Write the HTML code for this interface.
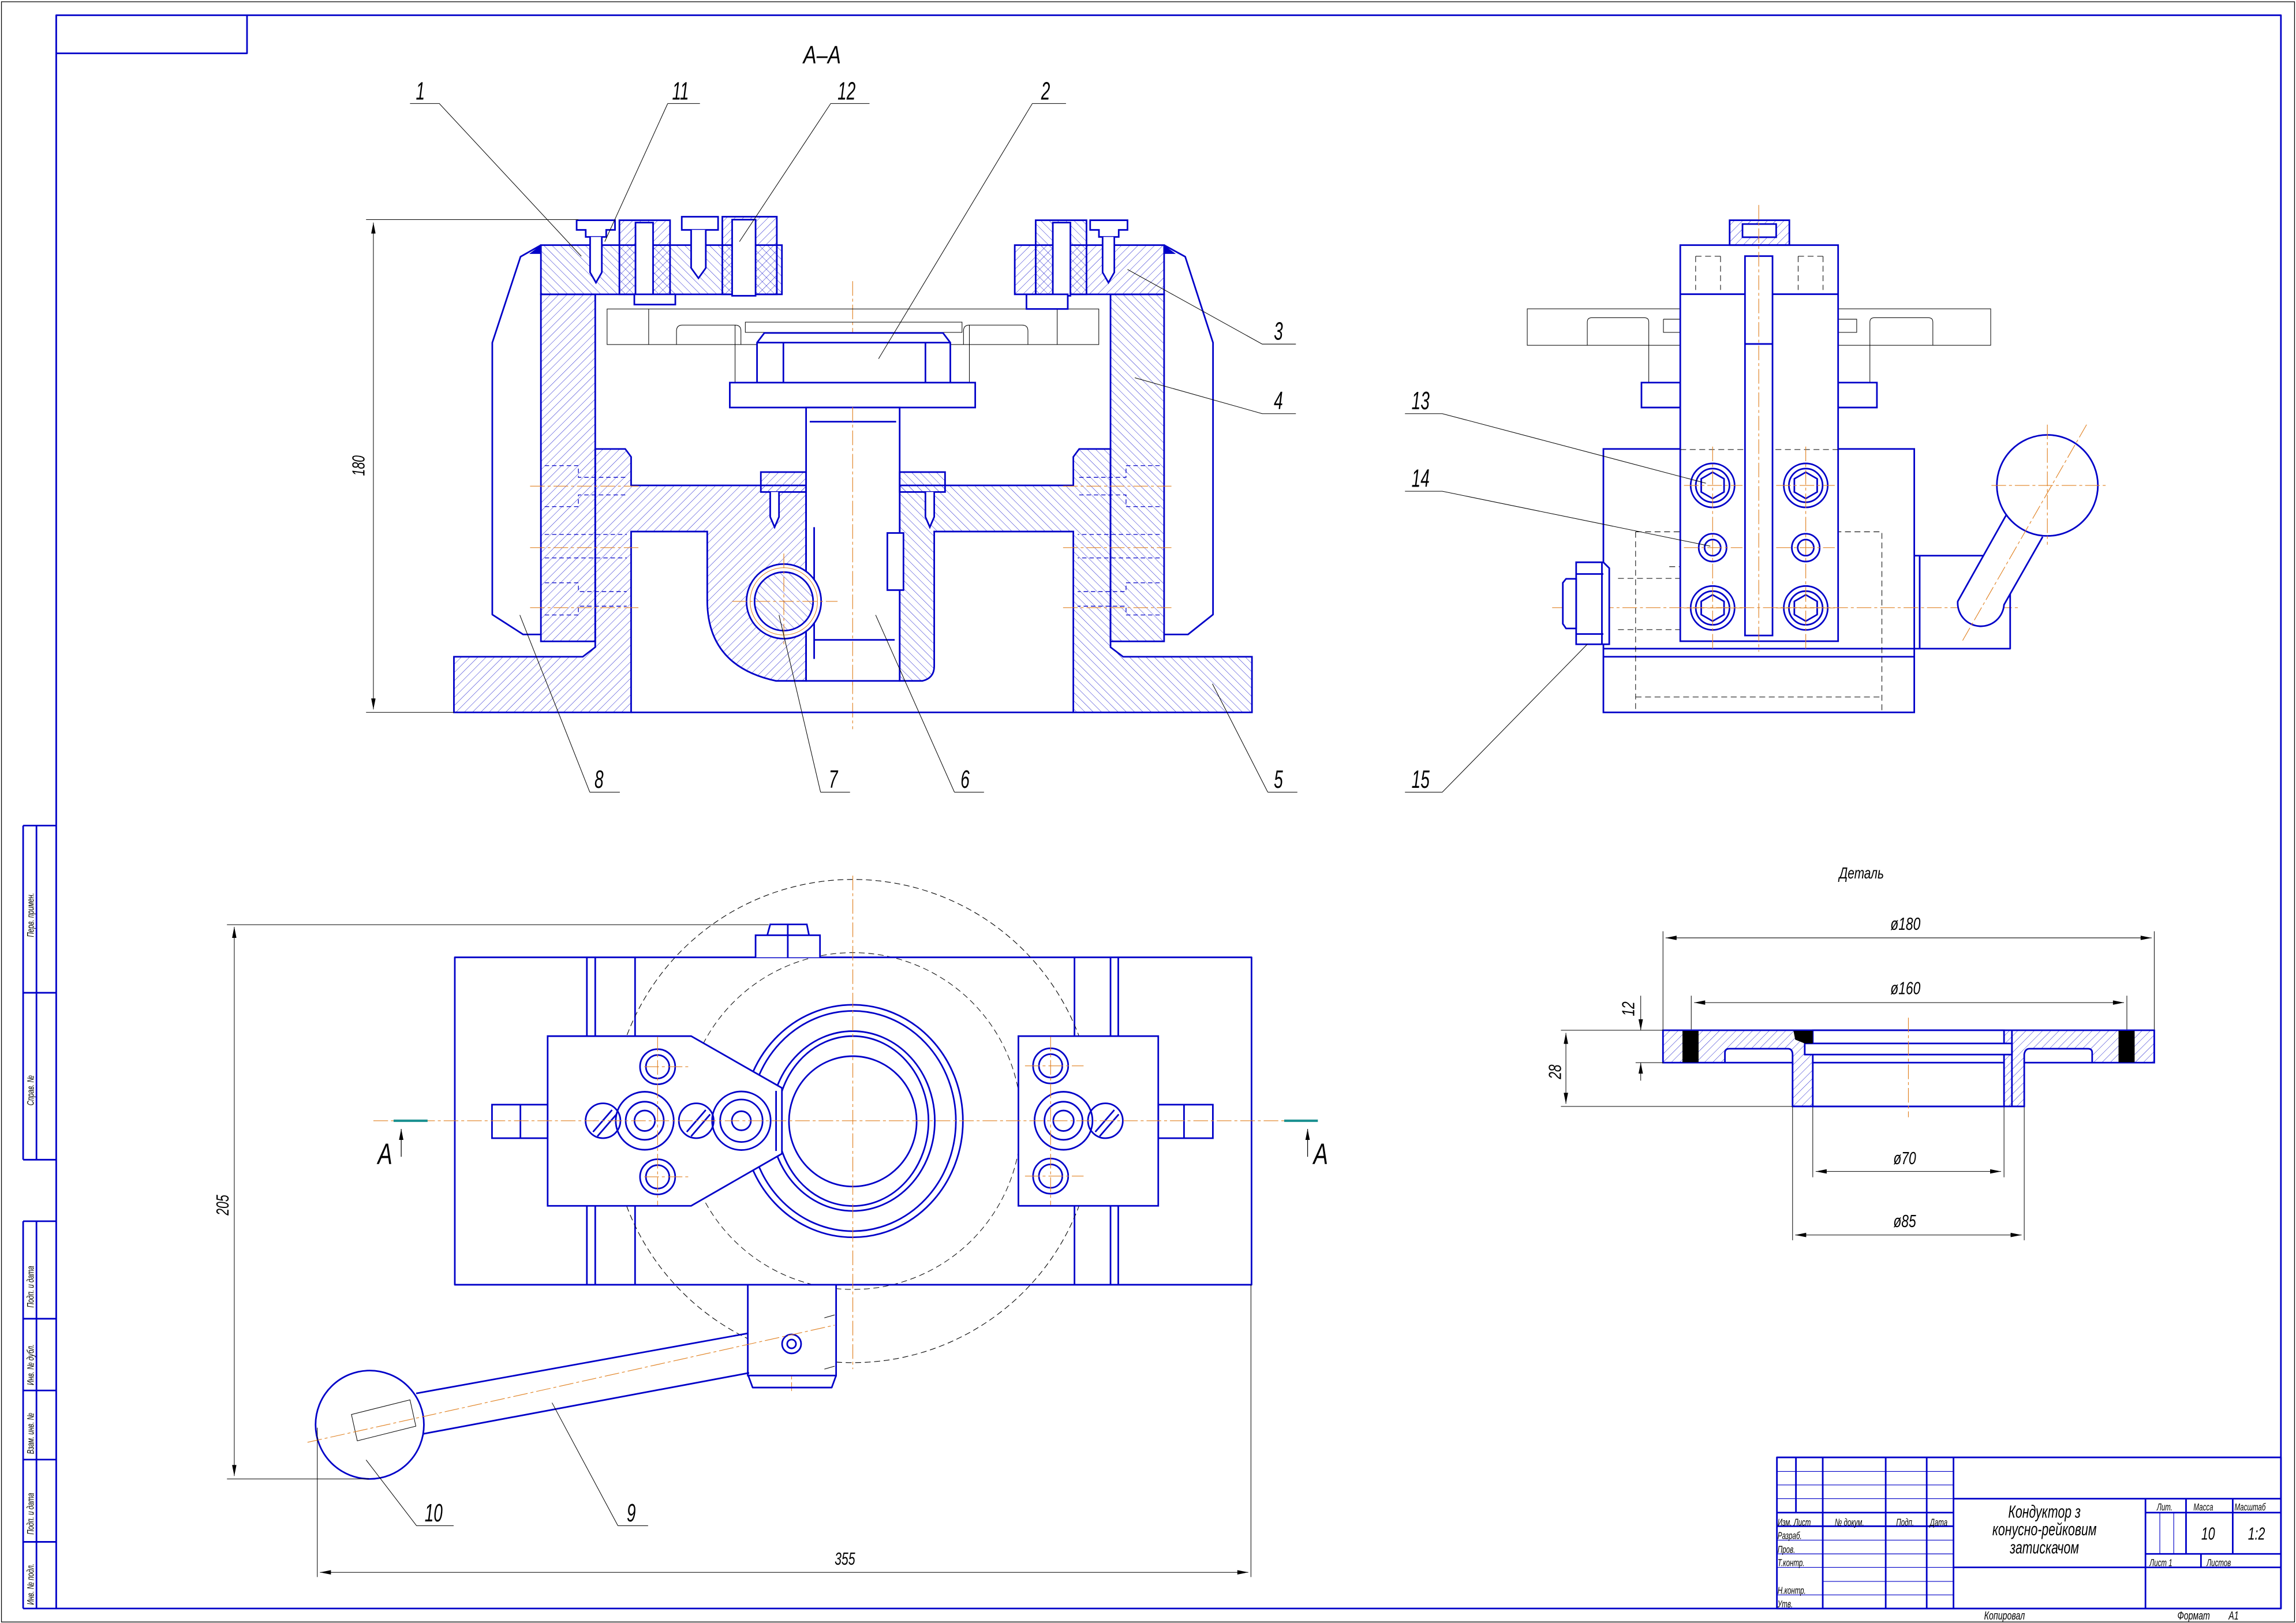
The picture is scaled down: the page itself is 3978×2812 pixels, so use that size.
<!DOCTYPE html>
<html><head><meta charset="utf-8">
<style>
html,body{margin:0;padding:0;background:#fff;}
svg{display:block;}
.m{stroke:#0000c8;stroke-width:1.1;fill:none;stroke-linejoin:round}
.mf{stroke:#0000c8;stroke-width:1.1;fill:url(#hp)}
.mf2{stroke:#0000c8;stroke-width:1.1;fill:url(#hp2)}
.mw{stroke:#0000c8;stroke-width:1.1;fill:#fff}
.t{stroke:#000;stroke-width:0.4;fill:none}
.tb{stroke:#000;stroke-width:0.5;fill:none}
.c{stroke:#e08020;stroke-width:0.45;fill:none;stroke-dasharray:10 2 2 2}
.h{stroke:#0000c8;stroke-width:0.5;fill:none;stroke-dasharray:3 2}
.hk{stroke:#000;stroke-width:0.4;fill:none;stroke-dasharray:4 2.5}
text{font-family:"Liberation Sans","DejaVu Sans",sans-serif;font-style:italic;fill:#000}
</style></head>
<body>
<svg width="3978" height="2812" viewBox="0 0 1568 1108.4" preserveAspectRatio="none" xmlns="http://www.w3.org/2000/svg">
<defs>
<pattern id="hp" patternUnits="userSpaceOnUse" width="4" height="4" patternTransform="rotate(45)"><line x1="0" y1="0" x2="0" y2="4" stroke="#0000c8" stroke-width="0.35"/></pattern>
<pattern id="hp2" patternUnits="userSpaceOnUse" width="4" height="4" patternTransform="rotate(-45)"><line x1="0" y1="0" x2="0" y2="4" stroke="#0000c8" stroke-width="0.35"/></pattern>
<marker id="ar" viewBox="0 0 10 4" refX="10" refY="2" markerWidth="8" markerHeight="3" orient="auto-start-reverse" markerUnits="userSpaceOnUse"><path d="M0,0 L10,2 L0,4z" fill="#000"/></marker>
</defs>
<rect x="0" y="0" width="1568" height="1108.4" fill="#fff"/>
<!-- frames -->
<rect x="1" y="1.2" width="1566" height="1106.5" class="tb"/>
<path d="M38.4,1098.5 V10.4 H1557.7 V1098.5 Z" class="m"/>
<path d="M38.4,36.4 H168.7 V10.4" class="m"/>
<!-- stamp strip -->
<g class="m">
<path d="M15.8,563.8 H38.4 M15.8,678 H38.4 M15.8,792 H38.4 M15.8,563.8 V792 M24.9,563.8 V792"/>
<path d="M15.8,834 H38.4 M15.8,900.6 H38.4 M15.8,949.6 H38.4 M15.8,996.8 H38.4 M15.8,1053 H38.4 M15.8,834 V1098.5 M24.9,834 V1098.5 M15.8,1098.5 H38.4"/>
</g>
<g font-size="6.5">
<text transform="translate(23,640) rotate(-90) scale(0.7,1)">Перв. примен.</text>
<text transform="translate(23,755) rotate(-90) scale(0.7,1)">Справ. №</text>
<text transform="translate(23,893) rotate(-90) scale(0.7,1)">Подп. и дата</text>
<text transform="translate(23,946) rotate(-90) scale(0.7,1)">Инв. № дубл.</text>
<text transform="translate(23,993) rotate(-90) scale(0.7,1)">Взам. инв. №</text>
<text transform="translate(23,1048) rotate(-90) scale(0.7,1)">Подп. и дата</text>
<text transform="translate(23,1096) rotate(-90) scale(0.7,1)">Инв. № подл.</text>
</g>

<!-- ============ SECTION A-A ============ -->
<text transform="translate(548.6,43.4) scale(0.8,1)" font-size="17">А–А</text>
<!-- centerline -->
<line x1="582.3" y1="192" x2="582.3" y2="498" class="c"/>
<!-- thin plate -->
<rect x="414.6" y="211" width="335.8" height="24.3" class="t"/>
<path d="M462,235.3 V226 Q462,222 466,222 H502 Q506,222 506,226 V235.3 M658,235.3 V226 Q658,222 662,222 H698 Q702,222 702,226 V235.3 M502,222 V262 M662,222 V262 M443,211 V235.3 M722,211 V235.3 M509,220 H657 V227 H509Z" class="t"/>
<!-- outer brackets 8 -->
<path d="M369.4,167.4 L355.5,175.3 L336.2,234 L336.2,419.7 L357.3,433.3 L369.4,433.3" class="m"/>
<path d="M795,167.4 L809.4,175.3 L828.4,234 L828.4,419.7 L811.3,433.3 L795,433.3" class="m"/>
<path d="M369.4,167.4 l-8,6 l8,0z M795,167.4 l8,6 l-8,0z" fill="#0000c8"/>
<!-- columns -->
<rect x="369.4" y="201" width="37.1" height="237" class="mf"/>
<rect x="758.4" y="201" width="36.6" height="237" class="mf2"/>
<!-- top plates -->
<rect x="369.4" y="167.4" width="164.6" height="33.6" class="mf2"/>
<rect x="693" y="167.4" width="102" height="33.6" class="mf"/>
<!-- top screws left -->
<path d="M393.8,150.4 H420 V157 H414 V161.8 H400 V157 H393.8Z" class="mw"/>
<path d="M403,161.8 V186 L407,193 L411,186 V161.8" class="mw"/>
<rect x="423" y="150.4" width="34.6" height="50.6" class="mf"/>
<rect x="434" y="152" width="12" height="50" class="mw"/>
<path d="M465.6,148 H490.4 V157 H465.6Z" class="mw"/>
<path d="M472,157 V183 L477,190 L482,183 V157" class="mw"/>
<rect x="493.3" y="148" width="37.2" height="53" class="mf"/>
<rect x="500" y="150" width="16" height="52" class="mw"/>
<rect x="433.2" y="201" width="28" height="7" class="mw"/>
<!-- top screws right -->
<rect x="707.3" y="150.4" width="34.7" height="50.6" class="mf2"/>
<rect x="719" y="152" width="12" height="50" class="mw"/>
<path d="M744.5,150.4 H770 V157 H764 V161.8 H750.5 V157 H744.5Z" class="mw"/>
<path d="M753,161.8 V186 L757,193 L761,186 V161.8" class="mw"/>
<rect x="701" y="201" width="28.2" height="10" class="mw"/>
<!-- disk 2 -->
<path d="M517,261.3 V234 L522,227.4 H644 L649,234 V261.3Z" class="mw"/>
<line x1="517" y1="234" x2="649" y2="234" class="m"/>
<line x1="535" y1="234" x2="535" y2="261" class="m"/>
<line x1="632" y1="234" x2="632" y2="261" class="m"/>
<rect x="498.4" y="261.3" width="167.6" height="17" class="mw"/>
<!-- bodies -->
<path d="M310,448.5 H398 L406.5,442 V306.6 H427 L431,312 V331.5 H550.5 V465 H530 Q483,455 483,410 V363 H431 V486.5 H310Z" class="mf"/>
<path d="M855,448.5 H767 L758.4,442 V306.6 H737 L733,312 V331.5 H614.4 V465 H630 Q638,463 638,455 V363 H733 V486.5 H855Z" class="mf2"/>
<line x1="431" y1="486.5" x2="733" y2="486.5" class="m"/>
<!-- stem -->
<rect x="550.5" y="278.3" width="63.9" height="186.7" class="mw"/>
<line x1="553" y1="288" x2="612" y2="288" class="m"/>
<path d="M556,450 V360 M556,437 H611" class="m"/>
<line x1="582.3" y1="278" x2="582.3" y2="470" class="c"/>
<rect x="606" y="364" width="11" height="39" class="mw"/>
<!-- small screw blocks -->
<rect x="519.6" y="322.4" width="30.9" height="13.6" class="mf"/>
<path d="M526,336 V353 L529,360 L532,353 V336" class="mw"/>
<rect x="614.4" y="322.4" width="31" height="13.6" class="mf2"/>
<path d="M632,336 V353 L635,360 L638,353 V336" class="mw"/>
<!-- circle 7 -->
<circle cx="535.3" cy="410.7" r="25.5" class="mw"/>
<circle cx="535.3" cy="410.7" r="20" class="mf2"/>
<circle cx="535.3" cy="410.7" r="23" style="stroke:#e08020;stroke-width:0.4;fill:none"/>
<path d="M500,410.7 H572 M535.3,378 V440" class="c"/>
<!-- hidden bolts in columns -->
<g class="h">
<path d="M372,318 H395 V326 H428 M372,346 H395 V338 H428 M372,365 H428 M372,381 H428 M372,398 H395 V404 H428 M372,420 H395 V414 H428"/>
<path d="M792,318 H769 V326 H736 M792,346 H769 V338 H736 M792,365 H736 M792,381 H736 M792,398 H769 V404 H736 M792,420 H769 V414 H736"/>
</g>
<path d="M362,332 H438 M362,374 H438 M362,415 H438 M726,332 H802 M726,374 H802 M726,415 H802" class="c"/>
<!-- dim 180 -->
<path d="M250,150 H395 M250,486.5 H310" class="t"/>
<line x1="255" y1="152" x2="255" y2="484.5" class="t" marker-start="url(#ar)" marker-end="url(#ar)"/>
<text transform="translate(249,325) rotate(-90) scale(0.7,1)" font-size="12">180</text>

<!-- ============ SIDE VIEW ============ -->
<rect x="1043" y="210.9" width="316.5" height="24.9" class="t"/>
<path d="M1084,235.8 V220 Q1084,217 1087,217 H1123 Q1126,217 1126,220 V261 M1277,261 V220 Q1277,217 1280,217 H1317 Q1320,217 1320,220 V235.8 M1136,218 H1147.5 M1255.3,218 H1268 V227 H1255.3 M1136,218 V227 H1147.5" class="t"/>
<path d="M1121,261.3 H1147.5 V278.3 H1121Z M1255.3,261.3 H1281.8 V278.3 H1255.3Z" class="mw"/>
<rect x="1095" y="306.6" width="212.3" height="179.9" class="mw"/>
<line x1="1095" y1="443" x2="1307.3" y2="443" class="m"/>
<line x1="1095" y1="448.5" x2="1307.3" y2="448.5" class="m"/>
<path d="M1117,363.2 H1285.2 V486.5 M1117,363.2 V486.5 M1117,476 H1285.2" class="hk"/>
<path d="M1105,395 H1248 M1105,430 H1248 M1140,387 H1240" class="hk"/>
<rect x="1147.5" y="167.4" width="107.8" height="270.5" class="mw"/>
<line x1="1147.5" y1="200.9" x2="1255.3" y2="200.9" class="m"/>
<path d="M1158,175 V198 M1175,175 V198 M1158,175 H1175 M1228,175 V198 M1245,175 V198 M1228,175 H1245 M1147.5,307 H1255.3" class="hk"/>
<rect x="1191.7" y="174.9" width="18.8" height="259.1" class="mw"/>
<line x1="1191.7" y1="234.9" x2="1210.5" y2="234.9" class="m"/>
<rect x="1181.2" y="150.4" width="40.8" height="17" class="mf"/>
<rect x="1190" y="153" width="23" height="9" class="mw"/>
<line x1="1201.1" y1="140" x2="1201.1" y2="445" class="c"/>
<g class="m">
<circle cx="1169.6" cy="331.5" r="15"/><circle cx="1169.6" cy="331.5" r="11.5"/>
<circle cx="1233.2" cy="331.5" r="15"/><circle cx="1233.2" cy="331.5" r="11.5"/>
<circle cx="1169.6" cy="415.2" r="15"/><circle cx="1169.6" cy="415.2" r="11.5"/>
<circle cx="1233.2" cy="415.2" r="15"/><circle cx="1233.2" cy="415.2" r="11.5"/>
<circle cx="1169.6" cy="374" r="9.5"/><circle cx="1169.6" cy="374" r="5.5"/>
<circle cx="1233.2" cy="374" r="9.5"/><circle cx="1233.2" cy="374" r="5.5"/>
<polygon points="1169.6,322.5 1177.4,327 1177.4,336 1169.6,340.5 1161.8,336 1161.8,327"/>
<polygon points="1233.2,322.5 1241,327 1241,336 1233.2,340.5 1225.4,336 1225.4,327"/>
<polygon points="1169.6,406.2 1177.4,410.7 1177.4,419.7 1169.6,424.2 1161.8,419.7 1161.8,410.7"/>
<polygon points="1233.2,406.2 1241,410.7 1241,419.7 1233.2,424.2 1225.4,419.7 1225.4,410.7"/>
</g>
<path d="M1150,331.5 H1190 M1213,331.5 H1253 M1150,374 H1190 M1213,374 H1253 M1150,415.2 H1190 M1213,415.2 H1253 M1169.6,305 V445 M1233.2,305 V445 M1060,415 H1380" class="c"/>
<!-- hub and handle -->
<path d="M1307.3,379.5 H1372.8 V443 H1307.3" class="m"/>
<line x1="1311" y1="379.5" x2="1311" y2="443" class="m"/>
<path d="M1370,351.9 L1337,410.7 A15,15 0 0 0 1368.6,413 L1395,366.6" class="mw"/>
<circle cx="1398.2" cy="331.5" r="34.5" class="mw"/>
<path d="M1360,331.5 H1440 M1398.2,290 V372 M1425,290 L1340,438" class="c"/>
<!-- bolt 15 -->
<path d="M1076.4,384 H1095 L1099,388 V440 H1095 L1076.4,440Z" class="mw"/>
<path d="M1076.4,392 H1095 M1076.4,433 H1095 M1094,384 V440" class="m"/>
<path d="M1076.4,395.3 H1069.5 L1067.3,398 V426 L1069.5,429.2 H1076.4 Z" class="mw"/>

<!-- ============ PLAN VIEW ============ -->
<circle cx="582.4" cy="765.6" r="165" class="hk"/>
<circle cx="582.4" cy="765.6" r="115" class="hk"/>
<rect x="310.6" y="653.8" width="544.1" height="223.6" class="m"/>
<path d="M400.8,653.8 V877.4 M406.5,653.8 V877.4 M433.7,653.8 V877.4 M733.8,653.8 V877.4 M758.4,653.8 V877.4 M763.7,653.8 V877.4" class="m"/>
<circle cx="582.4" cy="765.6" r="165" class="hk" style="stroke-opacity:0.6"/>
<path d="M516,653.8 V638.7 H560 V653.8 M524,638.7 L526,631.3 H551 L552.5,638.7 M538,631.3 V653.8" class="mw"/>
<!-- side tabs -->
<rect x="336" y="754.4" width="38" height="22.9" class="mw"/><line x1="355.4" y1="754.4" x2="355.4" y2="777.3" class="m"/>
<rect x="791" y="754.4" width="37.3" height="22.9" class="mw"/><line x1="808.6" y1="754.4" x2="808.6" y2="777.3" class="m"/>
<!-- ring -->
<ellipse cx="582.4" cy="765.6" rx="75.2" ry="79.4" class="m"/>
<ellipse cx="582.4" cy="765.6" rx="70.4" ry="75.2" class="m"/>
<ellipse cx="582.4" cy="765.6" rx="56" ry="61.4" class="m"/>
<ellipse cx="582.4" cy="765.6" rx="51.7" ry="58" class="m"/>
<ellipse cx="582.4" cy="765.8" rx="43.6" ry="44.5" class="m"/>
<!-- blocks -->
<polygon points="374,707.6 472,707.6 534,743 534,787.9 472,823.5 374,823.5" class="mw"/>
<rect x="695.5" y="707.6" width="95.5" height="115.9" class="mw"/>
<line x1="530" y1="745" x2="530" y2="786" class="m"/>
<g class="m">
<circle cx="449.1" cy="728.5" r="12"/><circle cx="449.1" cy="728.5" r="8"/>
<circle cx="449.1" cy="803.7" r="12"/><circle cx="449.1" cy="803.7" r="8"/>
<circle cx="440.3" cy="765.4" r="19.8"/><circle cx="440.3" cy="765.4" r="13"/><circle cx="440.3" cy="765.4" r="7"/>
<circle cx="506.3" cy="765.4" r="20"/><circle cx="506.3" cy="765.4" r="14.5"/><circle cx="506.3" cy="765.4" r="6.5"/>
<circle cx="411.8" cy="765.4" r="11.9"/><circle cx="475.5" cy="765.4" r="11.9"/>
<circle cx="717.5" cy="727.9" r="12"/><circle cx="717.5" cy="727.9" r="8"/>
<circle cx="717.5" cy="803.2" r="12"/><circle cx="717.5" cy="803.2" r="8"/>
<circle cx="726.3" cy="765.4" r="19.8"/><circle cx="726.3" cy="765.4" r="13"/><circle cx="726.3" cy="765.4" r="7"/>
<circle cx="754.9" cy="765.4" r="11.9"/>
<path d="M405,773 L418,758 M408,776 L421,761 M469,773 L482,758 M472,776 L485,761 M748,773 L761,758 M751,776 L764,761"/>
</g>
<path d="M255,765.4 H880 M582.4,598 V935 M449.1,708 V823 M717.5,708 V823 M440,728.5 H470 M440,803.7 H470 M700,727.9 H740 M700,803.2 H740 M540.6,880 V950" class="c"/>
<!-- section marks -->
<path d="M268.8,765.4 H292 M877,765.4 H900" stroke="#1a9090" stroke-width="1.6"/>
<line x1="274" y1="790" x2="274" y2="771" class="tb" marker-end="url(#ar)"/>
<line x1="893" y1="790" x2="893" y2="771" class="tb" marker-end="url(#ar)"/>
<text transform="translate(258,795) scale(0.75,1)" font-size="20">А</text>
<text transform="translate(897,795) scale(0.75,1)" font-size="20">А</text>
<!-- bottom block & handle -->
<rect x="510.7" y="877.4" width="60.3" height="62" class="mw"/>
<path d="M511,939.4 L514,947.6 H568 L571,939.4" class="m"/>
<path d="M284.2,951.6 L510.7,910.6 M288.6,979.3 L511.6,937.6" class="m"/>
<path d="M563,900 L570,898 M563,935 L570,933" class="t"/>
<circle cx="540.6" cy="917.8" r="6.5" class="m"/><circle cx="540.6" cy="917.8" r="3" class="m"/>
<circle cx="252.5" cy="973" r="37" class="mw"/>
<path d="M240,966 L280,956 L284,974 L244,984Z" class="t"/>
<path d="M210,985 L570,905" class="c"/>
<!-- dims 205 / 355 -->
<path d="M155,631.5 H525 M155,1010 H252" class="t"/>
<line x1="160" y1="633" x2="160" y2="1008" class="t" marker-start="url(#ar)" marker-end="url(#ar)"/>
<text transform="translate(156,830) rotate(-90) scale(0.7,1)" font-size="12">205</text>
<path d="M216.7,975 V1077 M854.3,877.4 V1077" class="t"/>
<line x1="218.5" y1="1073.8" x2="852.5" y2="1073.8" class="t" marker-start="url(#ar)" marker-end="url(#ar)"/>
<text transform="translate(570,1068.5) scale(0.7,1)" font-size="12">355</text>

<!-- ============ DETAIL ============ -->
<text transform="translate(1256,600) scale(0.75,1)" font-size="11">Деталь</text>
<path d="M1135.7,703.6 H1471.2 V725.7 H1382.4 V755.6 H1224.2 V725.7 H1135.7Z" class="mf"/>
<path d="M1178,725.7 V719 Q1178,716.2 1181,716.2 H1221 Q1224,716.2 1224.2,720 V725.7Z M1382.4,725.7 V720 Q1383,716.2 1386,716.2 H1426 Q1428.8,716.2 1428.8,719 V725.7Z" fill="#fff" stroke="#0000c8" stroke-width="1.1"/>
<rect x="1238" y="703.6" width="130.6" height="52" class="mw"/>
<rect x="1232.5" y="712.6" width="141.5" height="7.6" class="mw"/>
<line x1="1238" y1="725.7" x2="1368.6" y2="725.7" class="m"/>
<line x1="1374" y1="703.6" x2="1374" y2="755.6" class="m"/>
<rect x="1149" y="704" width="11" height="21.5" fill="#000"/>
<rect x="1446.8" y="704" width="11" height="21.5" fill="#000"/>
<path d="M1224.8,704 H1238 V712.6 H1232.5 L1226,710Z" fill="#000"/>
<line x1="1303.3" y1="695" x2="1303.3" y2="763" class="c"/>
<path d="M1135.7,703 V636 M1471.2,703 V636 M1155,703 V680 M1452.5,703 V680 M1238,756 V804 M1368.6,756 V804 M1224.2,756 V847 M1382.4,756 V847" class="t"/>
<line x1="1137.5" y1="640.5" x2="1469.4" y2="640.5" class="t" marker-start="url(#ar)" marker-end="url(#ar)"/>
<line x1="1157" y1="684.7" x2="1450.5" y2="684.7" class="t" marker-start="url(#ar)" marker-end="url(#ar)"/>
<line x1="1240" y1="800" x2="1366.6" y2="800" class="t" marker-start="url(#ar)" marker-end="url(#ar)"/>
<line x1="1226" y1="843.4" x2="1380.6" y2="843.4" class="t" marker-start="url(#ar)" marker-end="url(#ar)"/>
<text transform="translate(1291,635) scale(0.75,1)" font-size="12">ø180</text>
<text transform="translate(1291,679) scale(0.75,1)" font-size="12">ø160</text>
<text transform="translate(1293,795) scale(0.75,1)" font-size="12">ø70</text>
<text transform="translate(1293,838) scale(0.75,1)" font-size="12">ø85</text>
<path d="M1066,703.6 H1136 M1066,755.6 H1224 M1117,725.7 H1136" class="t"/>
<line x1="1069.4" y1="705.4" x2="1069.4" y2="753.8" class="t" marker-start="url(#ar)" marker-end="url(#ar)"/>
<line x1="1120.5" y1="680" x2="1120.5" y2="703.6" class="t" marker-end="url(#ar)"/>
<line x1="1120.5" y1="738" x2="1120.5" y2="725.7" class="t" marker-end="url(#ar)"/>
<text transform="translate(1066,737) rotate(-90) scale(0.75,1)" font-size="12">28</text>
<text transform="translate(1116,694) rotate(-90) scale(0.75,1)" font-size="12">12</text>

<!-- ============ LEADERS & LABELS ============ -->
<g class="t">
<path d="M280,70.7 H300 L397,175"/>
<path d="M456,70.7 H478 M456,70.7 L413,165"/>
<path d="M567.3,70.7 H593.8 M567.3,70.7 L505,165"/>
<path d="M705,70.7 H728 M705,70.7 L600,245"/>
<path d="M885,235 H862 L770,184"/>
<path d="M885,282.5 H862 L775,258"/>
<path d="M959.5,282.5 H985 L1165,330"/>
<path d="M959.5,335.5 H985 L1168,373"/>
<path d="M402.8,541 H423.3 M402.8,541 L355,420"/>
<path d="M560.4,541 H580.5 M560.4,541 L532,420"/>
<path d="M651.8,541 H672 M651.8,541 L598,420"/>
<path d="M865.8,541 H886 M865.8,541 L828,467"/>
<path d="M959.5,541 H985 L1084,440"/>
<path d="M284.5,1042 H309.8 M284.5,1042 L250,997"/>
<path d="M422,1042 H442.6 M422,1042 L377,958"/>
</g>
<g font-size="17">
<text transform="translate(284,68) scale(0.65,1)">1</text>
<text transform="translate(459,68) scale(0.65,1)">11</text>
<text transform="translate(572,68) scale(0.65,1)">12</text>
<text transform="translate(711,68) scale(0.65,1)">2</text>
<text transform="translate(870,232) scale(0.65,1)">3</text>
<text transform="translate(870,279.5) scale(0.65,1)">4</text>
<text transform="translate(964,279.5) scale(0.65,1)">13</text>
<text transform="translate(964,332.5) scale(0.65,1)">14</text>
<text transform="translate(406,538) scale(0.65,1)">8</text>
<text transform="translate(566,538) scale(0.65,1)">7</text>
<text transform="translate(656,538) scale(0.65,1)">6</text>
<text transform="translate(870,538) scale(0.65,1)">5</text>
<text transform="translate(964,538) scale(0.65,1)">15</text>
<text transform="translate(290,1039) scale(0.65,1)">10</text>
<text transform="translate(428,1039) scale(0.65,1)">9</text>
</g>

<!-- ============ TITLE BLOCK ============ -->
<g class="m">
<rect x="1213.5" y="995.3" width="344.2" height="103.2"/>
<path d="M1226.5,995.3 V1033 M1244.8,995.3 V1098.5 M1287.8,995.3 V1098.5 M1315.8,995.3 V1098.5 M1334.1,995.3 V1098.5"/>
<path d="M1213.5,1033 H1334.1 M1213.5,1042.3 H1334.1 M1334.1,1023.5 H1557.7 M1334.1,1070.4 H1557.7 M1465.2,1023.5 V1098.5 M1492.9,1023.5 V1061.2 M1524.8,1023.5 V1061.2 M1465.2,1033 H1557.7 M1465.2,1061.2 H1557.7 M1503.1,1061.2 V1070.4"/>
</g>
<g stroke="#0000c8" stroke-width="0.45" fill="none">
<path d="M1213.5,1004.9 H1334.1 M1213.5,1014.1 H1334.1 M1213.5,1023.5 H1334.1 M1213.5,1051.8 H1334.1 M1213.5,1061.2 H1334.1 M1213.5,1070.4 H1334.1 M1244.8,1080 H1334.1 M1213.5,1089.2 H1334.1 M1475,1033 V1061.2 M1484.5,1033 V1061.2"/>
</g>
<g font-size="7">
<text transform="translate(1214,1042) scale(0.65,1)">Изм. Лист</text>
<text transform="translate(1253,1042) scale(0.65,1)">№ докум.</text>
<text transform="translate(1295,1042) scale(0.65,1)">Подп.</text>
<text transform="translate(1318,1042) scale(0.65,1)">Дата</text>
<text transform="translate(1214,1051) scale(0.65,1)">Разраб.</text>
<text transform="translate(1214,1060.5) scale(0.65,1)">Пров.</text>
<text transform="translate(1214,1069.5) scale(0.65,1)">Т.контр.</text>
<text transform="translate(1214,1088.5) scale(0.65,1)">Н.контр.</text>
<text transform="translate(1214,1097.8) scale(0.65,1)">Утв.</text>
<text transform="translate(1473,1031.5) scale(0.65,1)">Лит.</text>
<text transform="translate(1498,1031.5) scale(0.65,1)">Масса</text>
<text transform="translate(1526,1031.5) scale(0.65,1)">Масштаб</text>
<text transform="translate(1468,1069.5) scale(0.65,1)">Лист   1</text>
<text transform="translate(1507,1069.5) scale(0.65,1)">Листов</text>
</g>
<g font-size="12" text-anchor="middle">
<text transform="translate(1396.2,1036.5) scale(0.7,1)">Кондуктор з</text>
<text transform="translate(1396.2,1048.5) scale(0.7,1)">конусно-рейковим</text>
<text transform="translate(1396.2,1061) scale(0.7,1)">затискачом</text>
<text transform="translate(1508,1051.5) scale(0.7,1)">10</text>
<text transform="translate(1541,1051.5) scale(0.7,1)">1:2</text>
</g>
<g font-size="8">
<text transform="translate(1355,1106) scale(0.7,1)">Копировал</text>
<text transform="translate(1487,1106) scale(0.7,1)">Формат</text>
<text transform="translate(1522,1106) scale(0.7,1)">А1</text>
</g>
</svg>
</body></html>
